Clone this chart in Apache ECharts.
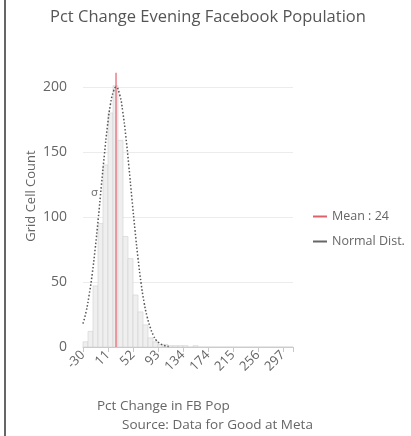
<!DOCTYPE html>
<html>
<head>
<meta charset="utf-8">
<script src="https://cdn.jsdelivr.net/npm/echarts@6/dist/echarts.min.js"></script>
<style>html,body{margin:0;padding:0;background:#fff;}#c{width:411px;height:436px;}</style>
</head>
<body>
<div id="c"></div>
<script>
// ---- data ----
const BIN_START = -30;
const BIN_WIDTH = 8.175;
const HIST_COUNTS = [4, 12, 47, 95, 140, 180, 201, 159, 85, 68, 40, 27, 17, 7, 4, 2, 2, 1, 1, 1,
                     1, 0, 1, 0, 0, 0, 0, 0, 0, 0, 0, 0, 0, 0, 0, 0, 0, 0, 0, 0, 0, 0];
const MEAN_VALUE = 24;
const MEAN_LINE_TOP = 211;
const NORMAL_X = [-30, -25, -20, -15, -10, -5, 0, 5, 10, 15, 20, 24, 30, 35, 40, 45, 50, 55, 60, 65, 70, 75, 80, 85, 90, 95, 100, 105, 110];
const NORMAL_Y = [18, 27, 40, 56, 76, 99, 124, 148, 170, 187, 197, 200, 194, 181, 162, 139, 114, 90, 68, 49, 34, 23, 15, 9, 5, 3, 1.6, 0.8, 0.4];
const X_TICK_STEP = 40.875;
const X_MAX = 313.35;
const Y_TICKS = [0, 50, 100, 150, 200];

const TITLE = 'Pct Change Evening Facebook Population';
const X_NAME = 'Pct Change in FB Pop';
const SOURCE = 'Source: Data for Good at Meta';
const Y_NAME = 'Grid Cell Count';
const MEAN_LABEL = 'Mean : ' + MEAN_VALUE;
const NORMAL_LABEL = 'Normal Dist.';

// ---- build series data ----
const histData = HIST_COUNTS.map((c, i) => [BIN_START + i * BIN_WIDTH, BIN_START + (i + 1) * BIN_WIDTH, c]);
const normalData = NORMAL_X.map((x, i) => [x, NORMAL_Y[i]]);
const meanData = [[MEAN_VALUE, 0], [MEAN_VALUE, MEAN_LINE_TOP]];

const FONT = '"Open Sans", "Noto Sans", sans-serif';
const chart = echarts.init(document.getElementById('c'), null, {renderer: 'canvas'});
chart.setOption({
  backgroundColor: '#ffffff',
  animation: false,
  textStyle: {fontFamily: FONT},
  title: {
    text: TITLE, left: 45, top: 4,
    textStyle: {fontSize: 16.5, fontWeight: 'normal', color: '#555', fontFamily: FONT}
  },
  legend: {
    orient: 'vertical', left: 308, top: 205, itemWidth: 14, itemHeight: 2, itemGap: 12,
    icon: 'rect',
    data: [{name: MEAN_LABEL}, {name: NORMAL_LABEL}],
    textStyle: {fontSize: 12.5, color: '#666', fontFamily: FONT}
  },
  grid: {left: 83, right: 118, top: 87, bottom: 89},
  xAxis: {
    type: 'value', min: BIN_START, max: X_MAX, interval: X_TICK_STEP,
    axisLine: {show: true, lineStyle: {color: '#c8c8c8'}},
    axisTick: {show: true, length: 5, lineStyle: {color: '#c8c8c8'}},
    splitLine: {show: false},
    axisLabel: {
      rotate: 45, margin: 6, fontSize: 13, color: '#666', fontFamily: FONT,
      formatter: v => (v > 300 ? '' : String(Math.round(v)))
    }
  },
  yAxis: {
    type: 'value', min: Y_TICKS[0], max: Y_TICKS[Y_TICKS.length - 1], interval: 50,
    axisLine: {show: false}, axisTick: {show: false},
    splitLine: {lineStyle: {color: '#ececec'}},
    axisLabel: {margin: 16, fontSize: 14, color: '#666', fontFamily: FONT}
  },
  graphic: [
    {type: 'text', rotation: Math.PI / 2, position: [31, 196],
     style: {text: Y_NAME, font: '13px "Open Sans", sans-serif', fill: '#666', textAlign: 'center', textVerticalAlign: 'middle'}},
    {type: 'text', position: [97, 399], style: {text: X_NAME, font: '13.5px "Open Sans", sans-serif', fill: '#666'}},
    {type: 'text', position: [122, 418], style: {text: SOURCE, font: '13.5px "Open Sans", sans-serif', fill: '#666'}},
    {type: 'text', position: [91, 188], style: {text: 'σ', font: '11px "DejaVu Sans", sans-serif', fill: '#777'}},
    {type: 'line', shape: {x1: 5, y1: 0, x2: 5, y2: 436}, style: {stroke: '#666', lineWidth: 2}}
  ],
  series: [
    {
      name: 'Histogram', type: 'custom', data: histData, z: 1,
      encode: {x: [0, 1], y: 2},
      renderItem: function (params, api) {
        const p0 = api.coord([api.value(0), api.value(2)]);
        const p1 = api.coord([api.value(1), 0]);
        return {type: 'rect', shape: {x: p0[0], y: p0[1], width: p1[0] - p0[0], height: p1[1] - p0[1]},
                style: {fill: '#efefef', stroke: '#d2d2d2', lineWidth: 0.6}};
      }
    },
    {
      name: MEAN_LABEL, type: 'line', data: meanData, symbol: 'none', clip: false, z: 3,
      lineStyle: {color: '#e0606a', width: 1.2}, itemStyle: {color: '#e0606a'}
    },
    {
      name: NORMAL_LABEL, type: 'line', data: normalData, symbol: 'none', smooth: true, clip: false, z: 4,
      lineStyle: {color: '#555', width: 1.5, type: [1.5, 2]}, itemStyle: {color: '#666'}
    }
  ]
});
</script>
</body>
</html>
